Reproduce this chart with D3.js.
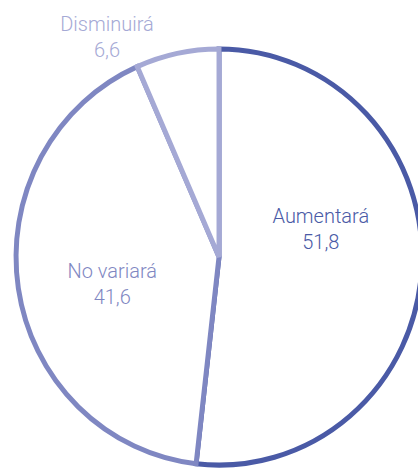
<!DOCTYPE html>
<html>
<head>
<meta charset="utf-8">
<script src="https://cdn.jsdelivr.net/npm/d3@7/dist/d3.min.js"></script>
<style>
  html, body { margin: 0; padding: 0; background: #fff; }
  svg { display: block; }
  text { font-family: Roboto, "Liberation Sans", Arial, sans-serif; font-weight: 300; }
</style>
</head>
<body>
<div id="chart"></div>
<script>
// datos
var categories = ["Aumentará", "No variará", "Disminuirá"];
var values = [51.8, 41.6, 6.6];
var colors = ["#4a5aa6", "#7f87c2", "#a5a9d5"];

var width = 418, height = 468;
var cx = 219, cy = 257, radius = 205;
var fmt = function(v){ return d3.format(".1f")(v).replace(".", ","); };

var svg = d3.select("#chart").append("svg")
    .attr("width", width)
    .attr("height", height);

var g = svg.append("g")
    .attr("transform", "translate(" + cx + "," + cy + ") scale(0.99,1.015)");

var pie = d3.pie()
    .sort(null)
    .value(function(d){ return d; });

var arc = d3.arc()
    .innerRadius(0)
    .outerRadius(radius);

var arcs = pie(values);

g.selectAll("path")
    .data(arcs)
    .enter()
    .append("path")
    .attr("d", arc)
    .style("fill", "#fff")
    .style("stroke", function(d, i){ return colors[i]; })
    .style("stroke-width", 5)
    .style("stroke-linejoin", "miter");

// etiquetas
var labelArc = d3.arc().innerRadius(0).outerRadius(210);
var labels = svg.append("g").attr("transform", "translate(" + cx + "," + cy + ")");

arcs.forEach(function(d, i){
    var c = labelArc.centroid(d);
    var x = c[0] - 3, y;
    if (d.endAngle - d.startAngle < 0.5) { // segmento pequeño: fuera del círculo
        x = -112; y = -226;
    } else if (c[0] > 0) {
        y = c[1] - 40;
    } else {
        y = c[1] + 5;
    }
    var t = labels.append("text")
        .attr("x", x)
        .attr("y", y)
        .attr("text-anchor", "middle")
        .style("font-size", "20px")
        .style("fill", colors[i]);
    t.append("tspan").attr("x", x).text(categories[i]);
    t.append("tspan").attr("x", x).attr("dy", 26).text(fmt(values[i]));
});
</script>
</body>
</html>
